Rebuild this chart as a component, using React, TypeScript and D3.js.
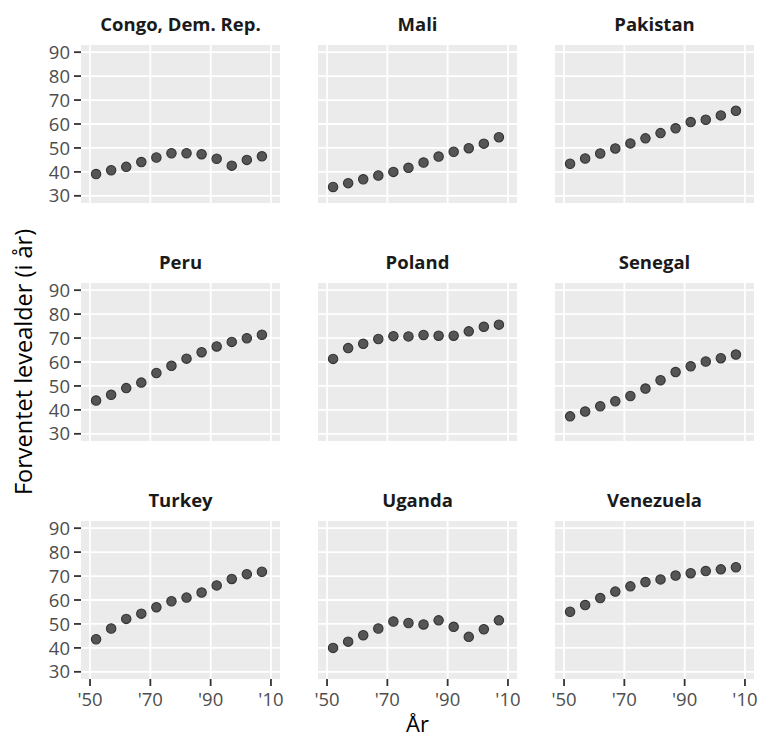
import * as d3 from 'd3'

const YEARS = [1952, 1957, 1962, 1967, 1972, 1977, 1982, 1987, 1992, 1997, 2002, 2007]

const COUNTRIES = ['Congo, Dem. Rep.', 'Mali', 'Pakistan', 'Peru', 'Poland', 'Senegal', 'Turkey', 'Uganda', 'Venezuela']

const congo = [39.1, 40.7, 42.1, 44.1, 46.0, 47.8, 47.8, 47.4, 45.5, 42.6, 45.0, 46.5]
const mali = [33.7, 35.3, 36.9, 38.5, 40.0, 41.7, 43.9, 46.4, 48.4, 49.9, 51.8, 54.5]
const pakistan = [43.4, 45.6, 47.7, 49.8, 51.9, 54.0, 56.2, 58.2, 60.8, 61.8, 63.6, 65.5]
const peru = [43.9, 46.3, 49.1, 51.4, 55.4, 58.4, 61.4, 64.1, 66.5, 68.4, 69.9, 71.4]
const poland = [61.3, 65.8, 67.6, 69.6, 70.8, 70.7, 71.3, 71.0, 71.0, 72.8, 74.7, 75.6]
const senegal = [37.3, 39.3, 41.5, 43.6, 45.8, 48.9, 52.4, 55.8, 58.2, 60.2, 61.6, 63.1]
const turkey = [43.6, 48.1, 52.1, 54.3, 57.0, 59.5, 61.0, 63.1, 66.1, 68.8, 70.8, 71.8]
const uganda = [40.0, 42.6, 45.3, 48.1, 51.0, 50.4, 49.8, 51.5, 48.8, 44.6, 47.8, 51.5]
const venezuela = [55.1, 57.9, 60.8, 63.5, 65.7, 67.5, 68.6, 70.2, 71.2, 72.1, 72.8, 73.7]

const SERIES = [congo, mali, pakistan, peru, poland, senegal, turkey, uganda, venezuela]

const X_TICKS = [1950, 1970, 1990, 2010]
const Y_TICKS = [30, 40, 50, 60, 70, 80, 90]

const FONT = '"Open Sans", "Noto Sans", sans-serif'

export default function App() {
  const width = 759
  const height = 738
  const panelW = 199
  const panelH = 158
  const colX = [81, 318, 555]
  const rowY = [45, 283, 521]

  // limits 1950-2010 and 30-90 with ggplot's 5% expansion
  const x = d3.scaleLinear().domain([1947, 2013]).range([0, panelW])
  const y = d3.scaleLinear().domain([27, 93]).range([panelH, 0])

  const fmtYear = (v: number) => `'${String(v % 100).padStart(2, '0')}`

  return (
    <svg width={width} height={height} style={{ position: 'absolute', left: 0, top: 0 }} fontFamily={FONT}>
      <rect width={width} height={height} fill="white" />
      {COUNTRIES.map((name, i) => {
        const col = i % 3
        const row = Math.floor(i / 3)
        const values = SERIES[i]
        return (
          <g key={name} transform={`translate(${colX[col]},${rowY[row]})`}>
            <text x={panelW / 2} y={-14} textAnchor="middle" fontSize={18.5} fontWeight="bold" fill="#1a1a1a">
              {name}
            </text>
            <rect width={panelW} height={panelH} fill="#EBEBEB" />
            {Y_TICKS.map(t => (
              <line key={`gy${t}`} x1={0} x2={panelW} y1={y(t)} y2={y(t)} stroke="white" strokeWidth={1.8} />
            ))}
            {X_TICKS.map(t => (
              <line key={`gx${t}`} y1={0} y2={panelH} x1={x(t)} x2={x(t)} stroke="white" strokeWidth={1.8} />
            ))}
            {values.map((v, j) => (
              <circle key={j} cx={x(YEARS[j])} cy={y(v)} r={4.7} fill="#555555" stroke="#333333" strokeWidth={1.1} />
            ))}
            {col === 0 && Y_TICKS.map(t => (
              <g key={`ty${t}`}>
                <line x1={-7} x2={0} y1={y(t)} y2={y(t)} stroke="#333333" strokeWidth={1.8} />
                <text x={-11} y={y(t)} dy="0.36em" textAnchor="end" fontSize={18.5} fill="#4D4D4D">{t}</text>
              </g>
            ))}
            {row === 2 && X_TICKS.map(t => (
              <g key={`tx${t}`}>
                <line y1={panelH} y2={panelH + 7} x1={x(t)} x2={x(t)} stroke="#333333" strokeWidth={1.8} />
                <text x={x(t)} y={panelH + 20} dy="0.36em" textAnchor="middle" fontSize={18.5} fill="#4D4D4D">{fmtYear(t)}</text>
              </g>
            ))}
          </g>
        )
      })}
      <text
        transform={`translate(24,${(rowY[0] + rowY[2] + panelH) / 2}) rotate(-90)`}
        textAnchor="middle"
        dy="0.36em"
        fontSize={23.5}
        fill="black"
      >
        Forventet levealder (i år)
      </text>
      <text x={colX[1] + panelW / 2} y={732} textAnchor="middle" fontSize={22} fill="black">
        År
      </text>
    </svg>
  )
}
